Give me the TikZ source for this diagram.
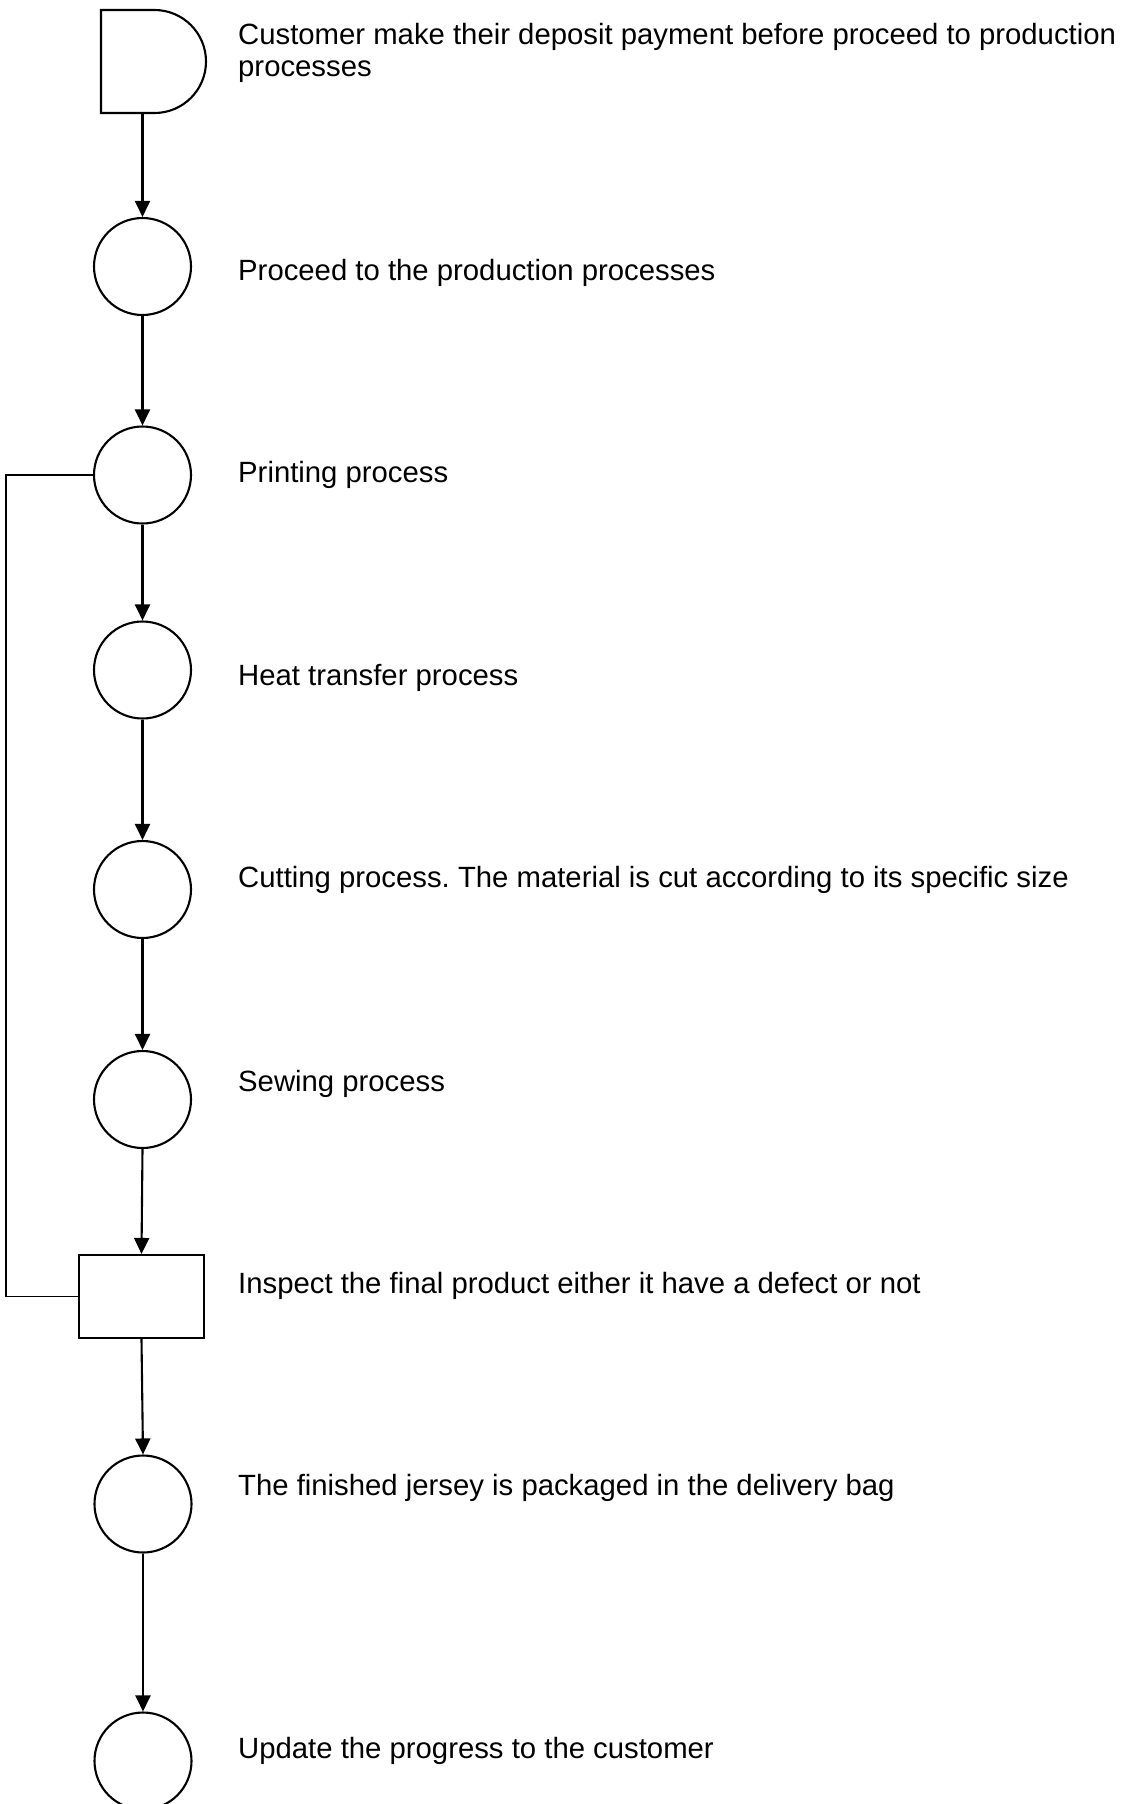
\documentclass[tikz,border=0pt]{standalone}
\usepackage{fontspec}
\setmainfont{Liberation Sans}
\usepackage{tikz}
\usetikzlibrary{
arrows.meta,
shapes.misc
}
\frenchspacing

\begin{document}
\begin{tikzpicture}[
  x=1pt, y=-1pt,
  >={Triangle[length=16pt, width=15pt]},
  every node/.style={font=\fontsize{29.3}{32}\selectfont},
  op/.style={draw, circle, line width=2.1pt,
             minimum size=97pt, inner sep=0pt},
  box/.style={draw, rectangle, line width=2.1pt,
              minimum width=125pt, minimum height=83pt, inner sep=0pt},
  arrow/.style={->, line width=2.1pt},
  desc/.style={anchor=base west, align=left, inner sep=0pt}
]

\useasboundingbox (0,0) rectangle (1122,1804);
\clip (0,0) rectangle (1122,1804);

%% Deposit (delay symbol)
\node[draw, rounded rectangle, rounded rectangle west arc=none,
      line width=2.1pt, minimum width=105pt, minimum height=103pt,
      inner sep=0pt] (pay) at (153.5, 61.5) {};

%% Process chain
\node[op] (proceed)  at (142.5, 266.5)  {};
\node[op] (printing) at (142.5, 475)    {};
\node[op] (heat)     at (142.5, 670)    {};
\node[op] (cutting)  at (142.5, 889.5)  {};
\node[op] (sewing)   at (142.5, 1099.5) {};

%% Inspection
\node[box] (inspect) at (141.5, 1296.5) {};

%% Packaging and update
\node[op] (packed) at (143, 1504) {};
\node[op] (update) at (143, 1761) {};

%% Flow
\draw[arrow] (pay.south -| proceed.north) -- (proceed.north);
\draw[arrow] (proceed.south)  -- (printing.north);
\draw[arrow] (printing.south) -- (heat.north);
\draw[arrow] (heat.south)     -- (cutting.north);
\draw[arrow] (cutting.south)  -- (sewing.north);
\draw[arrow] (sewing.south)   -- (inspect.north);
\draw[arrow] (inspect.south)  -- (packed.north);
\draw[arrow] (packed.south)   -- (update.north);

%% Rework loop
\draw[line width=1.5pt]
  (printing.west) -- ++(-87,0) |- (inspect.west);

%% Descriptions
\node[desc] (tpay) at (238, 76)
  {Customer make their deposit payment before proceed to production\\
   processes};
\node[desc] (tproceed)  at (238, 280)  {Proceed to the production processes};
\node[desc] (tprinting) at (238, 482)  {Printing process};
\node[desc] (theat)     at (238, 685)  {Heat transfer process};
\node[desc] (tcutting)  at (238, 887)
  {Cutting process. The material is cut according to its specific size};
\node[desc] (tsewing)   at (238, 1091) {Sewing process};
\node[desc] (tinspect)  at (238, 1293)
  {Inspect the final product either it have a defect or not};
\node[desc] (tpacked)   at (238, 1495)
  {The finished jersey is packaged in the delivery bag};
\node[desc] (tupdate)   at (238, 1758) {Update the progress to the customer};

\end{tikzpicture}
\end{document}
